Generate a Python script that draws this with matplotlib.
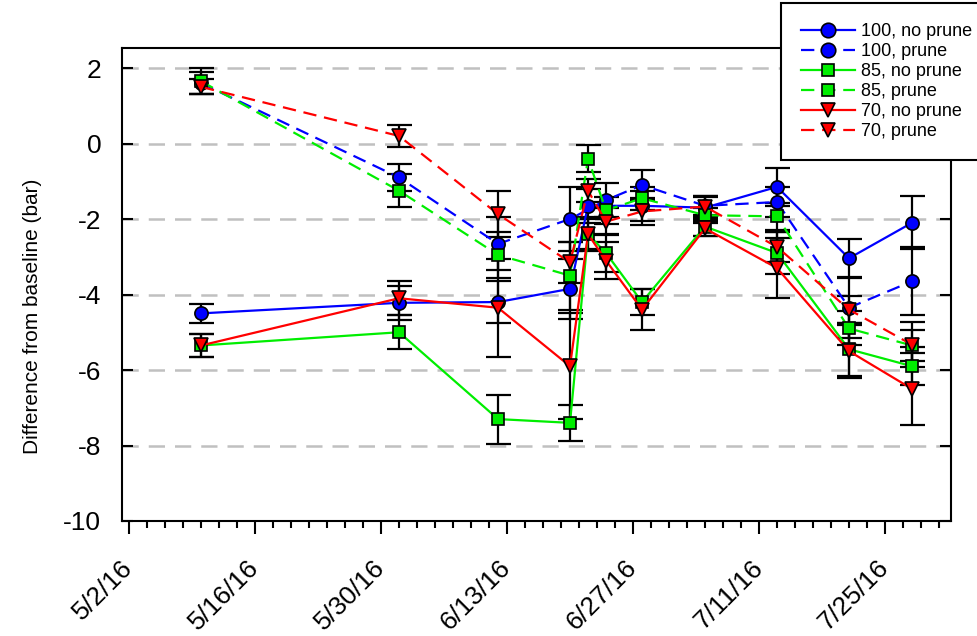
import numpy as np
import matplotlib
matplotlib.use("Agg")
import matplotlib.pyplot as plt
import matplotlib.dates as mdates
from matplotlib.ticker import FixedLocator

plt.rcParams['font.family'] = ['Liberation Sans', 'DejaVu Sans']

# sampling dates
dates = np.array(['2016-05-10', '2016-06-01', '2016-06-12', '2016-06-20', '2016-06-22',
                  '2016-06-24', '2016-06-28', '2016-07-05', '2016-07-13', '2016-07-21',
                  '2016-07-28'], dtype='datetime64[D]')

nan = np.nan
v100_np = [-4.5, -4.22, -4.2, -3.85, -1.65, nan, -1.65, -1.7, -1.15, -3.04, -2.1]
e100_np = [0.25, 0.45, 0.55, 0.8, 0.45, nan, 0.4, 0.3, 0.5, 0.5, 0.7]
v100_p = [1.6, -0.9, -2.66, -2.0, nan, -1.5, -1.1, -1.65, -1.55, -4.35, -3.65]
e100_p = [0.3, 0.35, 0.7, 0.85, nan, 0.45, 0.4, 0.25, 0.4, 0.8, 0.9]
v85_np = [-5.35, -5.0, -7.3, -7.4, -2.4, -2.9, -4.2, -2.2, -2.9, -5.45, -5.9]
e85_np = [0.3, 0.45, 0.65, 0.47, 0.4, 0.5, 0.35, 0.25, 0.55, 0.7, 0.5]
v85_p = [1.65, -1.25, -2.95, -3.5, -0.4, -1.77, -1.45, -1.9, -1.93, -4.9, -5.35]
e85_p = [0.35, 0.43, 0.6, 0.9, 0.35, 0.35, 0.3, 0.2, 0.35, 0.45, 0.4]
v70_np = [-5.35, -4.1, -4.35, -5.9, -2.4, -3.1, -4.4, -2.25, -3.3, -5.5, -6.5]
e70_np = [0.3, 0.45, 1.3, 1.4, 0.45, 0.5, 0.55, 0.2, 0.8, 0.7, 0.95]
v70_p = [1.5, 0.2, -1.87, -3.15, -1.25, -2.07, -1.8, -1.67, -2.74, -4.4, -5.33]
e70_p = [0.2, 0.28, 0.6, 0.55, 0.3, 0.35, 0.35, 0.25, 0.4, 0.35, 0.6]

labels = ['100, no prune', '100, prune', '85, no prune', '85, prune', '70, no prune', '70, prune']
values = [v100_np, v100_p, v85_np, v85_p, v70_np, v70_p]
errors = [e100_np, e100_p, e85_np, e85_p, e70_np, e70_p]
colors = ['#0000ff', '#0000ff', '#00ee00', '#00ee00', '#ff0000', '#ff0000']
markers = ['o', 'o', 's', 's', 'v', 'v']
msizes = [9.5, 9.5, 8.5, 8.5, 9.5, 9.5]
dashed = [False, True, False, True, False, True]
xlabels = ['5/2/16', '5/16/16', '5/30/16', '6/13/16', '6/27/16', '7/11/16', '7/25/16']

fig = plt.figure(figsize=(9.77, 6.36), dpi=100)
ax = fig.add_axes([122/977, 1-521/636, (951-122)/977, (521-48)/636])

x_all = mdates.date2num(dates)
for lab, v, e, c, m, ms, d in zip(labels, values, errors, colors, markers, msizes, dashed):
    v = np.array(v, dtype=float)
    e = np.array(e, dtype=float)
    ok = ~np.isnan(v)
    ls = (0, (6, 3.5)) if d else '-'
    ax.errorbar(x_all[ok], v[ok], yerr=e[ok], fmt='none', ecolor='black',
                elinewidth=1.6, capsize=9, capthick=1.6, zorder=3)
    ax.plot(x_all[ok], v[ok], color=c, linestyle=ls, linewidth=1.6, marker=m,
            markersize=ms, markerfacecolor=c, markeredgecolor='black',
            markeredgewidth=1.2, label=lab, zorder=4)

start = mdates.date2num(np.datetime64('2016-05-02'))
ax.set_xlim(start - 7/9, start + 822/9)
ax.set_ylim(-10, 2.53)

major = start + np.arange(0, 85, 14)
minor = start + np.arange(0, 91, 2)
ax.xaxis.set_major_locator(FixedLocator(major))
ax.xaxis.set_minor_locator(FixedLocator(minor))
ax.set_xticklabels(xlabels, rotation=45, ha='right', va='center',
                   rotation_mode='anchor', fontsize=19)
ax.tick_params(axis='x', which='major', direction='out', length=9, width=1.5, pad=22)
ax.tick_params(axis='x', which='minor', direction='out', length=5, width=1.5)

ax.set_yticks(np.arange(-10, 3, 2))
ax.set_yticklabels([str(t) for t in range(-10, 3, 2)], fontsize=19)
ax.tick_params(axis='y', direction='in', length=8, width=1.5, right=True, pad=15)

ax.set_axisbelow(True)
ax.grid(axis='y', color='#c0c0c0', linestyle=(0, (6.5, 4)), linewidth=1.8)
for s in ax.spines.values():
    s.set_linewidth(1.5)

ax.set_ylabel('Difference from baseline (bar)', fontsize=15)
ax.yaxis.set_label_coords(-0.097, 0.433)

leg = ax.legend(loc='upper left', bbox_to_anchor=(781/977, 1-3/636),
                bbox_transform=fig.transFigure, fontsize=13, numpoints=1,
                handlelength=3.0, handletextpad=0.35, labelspacing=0.17,
                borderpad=1.1, borderaxespad=0, fancybox=False, framealpha=1,
                markerscale=1.1)
leg.get_frame().set_edgecolor('black')
leg.get_frame().set_linewidth(1.5)
leg.set_zorder(10)

fig.savefig('out.png', dpi=100)
